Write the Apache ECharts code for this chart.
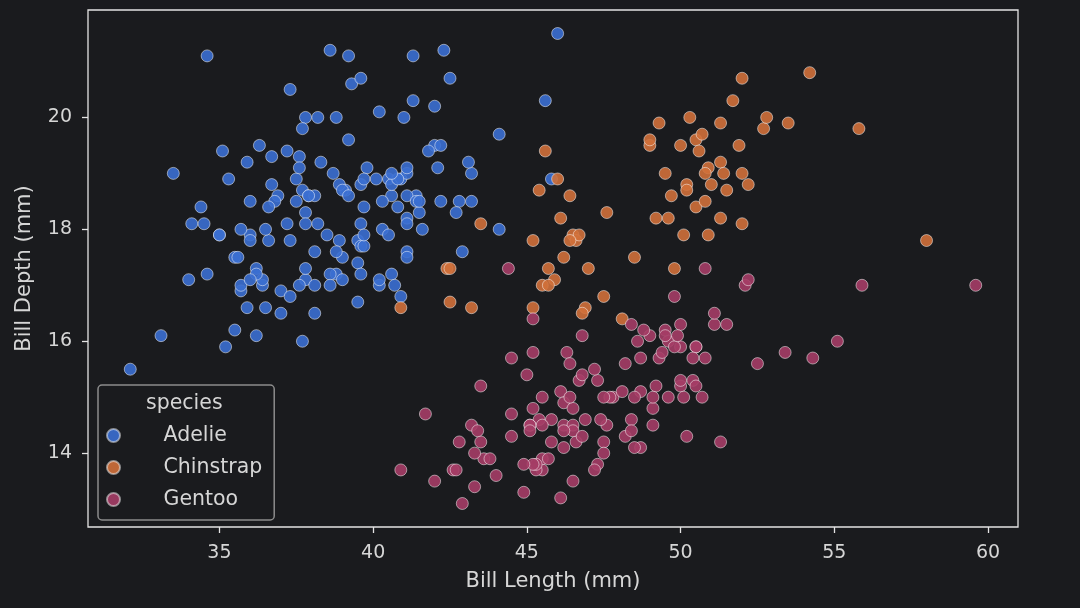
<!DOCTYPE html>
<html>
<head>
<meta charset="utf-8">
<title>Penguins bill size</title>
<script src="https://cdn.jsdelivr.net/npm/echarts@6/dist/echarts.min.js"></script>
<style>
  html, body { margin: 0; padding: 0; background: #1a1b1e; }
  #chart { width: 1080px; height: 608px; }
</style>
</head>
<body>
<div id="chart"></div>
<script>
// bill length / depth per species
var adelieLength = [39.1,39.5,40.3,36.7,39.3,38.9,39.2,34.1,42.0,37.8,37.8,41.1,38.6,34.6,36.6,38.7,42.5,34.4,46.0,37.8,
    37.7,35.9,38.2,38.8,35.3,40.6,40.5,37.9,40.5,39.5,37.2,39.5,40.9,36.4,39.2,38.8,42.2,37.6,39.8,36.5,
    40.8,36.0,44.1,37.0,39.6,41.1,37.5,36.0,42.3,39.6,40.1,35.0,42.0,34.5,41.4,39.0,40.6,36.5,37.6,35.7,
    41.3,37.6,41.1,36.4,41.6,35.5,41.1,35.9,41.8,33.5,39.7,39.6,45.8,35.5,42.8,40.9,37.2,36.2,42.1,34.6,
    42.9,36.7,35.1,37.3,41.3,36.3,36.9,38.3,38.9,35.7,41.1,34.0,39.6,36.2,40.8,38.1,40.3,33.1,43.2,35.0,
    41.0,37.7,37.8,37.9,39.7,38.6,38.2,38.1,43.2,38.1,45.6,39.7,42.2,39.6,42.7,38.6,37.3,35.7,41.1,36.2,
    37.7,40.2,41.4,35.2,40.6,38.8,41.5,39.0,44.1,38.5,43.1,36.8,37.5,38.1,41.1,35.6,40.2,37.0,39.7,40.2,
    40.6,32.1,40.7,37.3,39.0,39.2,36.6,36.0,37.8,36.0,41.5];
var adelieDepth = [18.7,17.4,18.0,19.3,20.6,17.8,19.6,18.1,20.2,17.1,17.3,17.6,21.2,21.1,17.8,19.0,20.7,18.4,21.5,18.3,
    18.7,19.2,18.1,17.2,18.9,18.6,17.9,18.6,18.9,16.7,18.1,17.8,18.9,17.0,21.1,20.0,18.5,19.3,19.1,18.0,
    18.4,18.5,19.7,16.9,18.8,19.0,18.9,17.9,21.2,17.7,18.9,17.9,19.5,18.1,18.6,17.5,18.8,16.6,19.1,16.9,
    21.1,17.0,18.2,17.1,18.0,16.2,19.1,16.6,19.4,19.0,18.4,17.2,18.9,17.5,18.5,16.8,19.4,16.1,19.1,17.2,
    17.6,18.8,19.4,17.8,20.3,19.5,18.6,19.2,18.8,18.0,18.1,17.1,18.1,17.3,18.9,18.6,18.5,16.1,18.5,17.9,
    20.0,16.0,20.0,18.6,18.9,17.2,20.0,17.0,19.0,16.5,20.3,17.7,19.5,20.7,18.3,17.0,20.5,17.0,18.6,17.2,
    19.8,17.0,18.5,15.9,19.0,17.6,18.3,17.1,18.0,17.9,19.2,18.5,18.5,17.6,17.5,17.5,20.1,16.5,17.9,17.1,
    17.2,15.5,17.0,16.8,18.7,18.6,18.4,17.8,18.1,17.1,18.5];

var chinstrapLength = [46.5,50.0,51.3,45.4,52.7,45.2,46.1,51.3,46.0,51.3,46.6,51.7,47.0,52.0,45.9,50.5,50.3,58.0,46.4,49.2,
    42.4,48.5,43.2,50.6,46.7,52.0,50.5,49.5,46.4,52.8,40.9,54.2,42.5,51.0,49.7,47.5,47.6,52.0,46.9,53.5,
    49.0,46.2,50.9,45.5,50.9,50.8,50.1,49.0,51.5,49.8,48.1,51.4,45.7,50.7,42.5,52.2,45.2,49.3,50.2,45.6,
    51.9,46.8,45.7,55.8,43.5,49.6,50.8,50.2];
var chinstrapDepth = [17.9,19.5,19.2,18.7,19.8,17.8,18.2,18.2,18.9,19.9,17.8,20.3,17.3,18.1,17.1,19.6,20.0,17.8,18.6,18.2,
    17.3,17.5,16.6,19.4,17.9,19.0,18.4,19.0,17.8,20.0,16.6,20.8,16.7,18.8,18.6,16.8,18.3,20.7,16.6,19.9,
    19.5,17.5,19.1,17.0,17.9,18.5,17.9,19.6,18.7,17.3,16.4,19.0,17.3,19.7,17.3,18.8,16.6,19.9,18.8,19.4,
    19.5,16.5,17.0,19.8,18.1,18.2,19.0,18.7];

var gentooLength = [46.1,50.0,48.7,50.0,47.6,46.5,45.4,46.7,43.3,46.8,40.9,49.0,45.5,48.4,45.8,49.3,42.0,49.2,46.2,48.7,
    50.2,45.1,46.5,46.3,42.9,46.1,44.5,47.8,48.2,50.0,47.3,42.8,45.1,59.6,49.1,48.4,42.6,44.4,44.0,48.7,
    42.7,49.6,45.3,49.6,50.5,43.6,45.5,50.5,44.9,45.2,46.6,48.5,45.1,50.1,46.5,45.0,43.8,45.5,43.2,50.4,
    45.3,46.2,45.7,54.3,45.8,49.8,46.2,49.5,43.5,50.7,47.7,46.4,48.2,46.5,46.4,48.6,47.5,51.1,45.2,45.2,
    49.1,52.5,47.4,50.0,44.9,50.8,43.4,51.3,47.5,52.1,47.5,52.2,45.5,49.5,44.5,50.8,49.4,46.9,48.4,51.1,
    48.5,55.9,47.2,49.1,47.3,46.8,41.7,53.4,43.3,48.1,50.5,49.8,43.5,51.5,46.2,55.1,44.5,48.8,47.2,46.8,
    50.4,45.2,49.9];
var gentooDepth = [13.2,16.3,14.1,15.2,14.5,13.5,14.6,15.3,13.4,15.4,13.7,16.1,13.7,14.6,14.6,15.7,13.5,15.2,14.5,15.1,
    14.3,14.5,14.5,15.8,13.1,15.1,14.3,15.0,14.3,15.3,15.3,14.2,14.5,17.0,14.8,16.3,13.7,17.3,13.6,15.7,
    13.7,16.0,13.7,15.0,15.9,13.9,13.9,15.9,13.3,15.8,14.2,14.1,14.4,15.0,14.4,15.4,13.9,15.0,14.5,15.3,
    13.8,14.9,13.9,15.7,14.2,16.8,14.4,16.2,14.2,15.0,15.0,15.6,15.6,14.8,15.0,16.0,14.2,16.3,13.8,16.4,
    14.5,15.6,14.6,15.9,13.8,17.3,14.4,14.2,14.0,17.0,15.0,17.1,14.5,16.1,14.7,15.7,15.8,14.6,14.4,16.5,
    15.0,17.0,15.5,15.0,13.8,16.1,14.7,15.8,14.0,15.1,15.2,15.9,15.2,16.3,14.1,16.0,15.7,16.2,13.7,14.3,
    15.7,14.8,16.1];

var speciesNames = ['Adelie', 'Chinstrap', 'Gentoo'];
var speciesColors = ['#3b6fd2', '#d0703a', '#a53d66'];
var xTicks = [35, 40, 45, 50, 55, 60];
var yTicks = [14, 16, 18, 20];

var textColor = '#d6d6d6';
var spineColor = '#e4e4e4';
var fontName = 'DejaVu Sans';

// zip two arrays into [x, y] pairs
var zip = function (xs, ys) {
    var out = [];
    for (var i = 0; i < xs.length; i++)
        out.push([xs[i], ys[i]]);
    return out;
};

var seriesData = [
    zip(adelieLength, adelieDepth),
    zip(chinstrapLength, chinstrapDepth),
    zip(gentooLength, gentooDepth)
];

var series = [];
for (var s = 0; s < speciesNames.length; s++) {
    series.push({
        name: speciesNames[s],
        type: 'scatter',
        data: seriesData[s],
        symbol: 'circle',
        symbolSize: 12,
        itemStyle: {
            color: speciesColors[s],
            opacity: 0.9,
            borderColor: 'rgba(255,255,255,0.55)',
            borderWidth: 1
        },
        emphasis: { disabled: true }
    });
}

var myChart = echarts.init(document.getElementById('chart'));

var option = {
    backgroundColor: '#1a1b1e',
    animation: false,
    textStyle: { fontFamily: fontName },
    grid: {
        left: 88,
        right: 62,
        top: 10,
        bottom: 81,
        show: true,
        borderColor: spineColor,
        borderWidth: 1.3
    },
    xAxis: {
        type: 'value',
        min: 30.725,
        max: 60.975,
        name: 'Bill Length (mm)',
        nameLocation: 'middle',
        nameGap: 44,
        nameTextStyle: { color: textColor, fontSize: 21, fontFamily: fontName },
        axisLine: { show: false },
        axisTick: {
            show: true, inside: false, length: 6,
            customValues: xTicks,
            lineStyle: { color: spineColor, width: 1.3 }
        },
        axisLabel: {
            color: textColor, fontSize: 19, margin: 17,
            customValues: xTicks
        },
        splitLine: { show: false }
    },
    yAxis: {
        type: 'value',
        min: 12.68,
        max: 21.92,
        name: 'Bill Depth (mm)',
        nameLocation: 'middle',
        nameGap: 53,
        nameRotate: 90,
        nameTextStyle: { color: textColor, fontSize: 21, fontFamily: fontName },
        axisLine: { show: false },
        axisTick: {
            show: true, inside: false, length: 6,
            customValues: yTicks,
            lineStyle: { color: spineColor, width: 1.3 }
        },
        axisLabel: {
            color: textColor, fontSize: 19, margin: 16,
            customValues: yTicks
        },
        splitLine: { show: false }
    },
    legend: {
        data: speciesNames,
        orient: 'vertical',
        left: 98,
        top: 385,
        icon: 'circle',
        itemWidth: 40,
        itemHeight: 13,
        itemGap: 11,
        padding: [40, 12, 10, 8],
        backgroundColor: '#1a1b1e',
        borderColor: '#8c8c8c',
        borderWidth: 1.5,
        borderRadius: 4,
        textStyle: {
            color: textColor, fontSize: 20.5, lineHeight: 20,
            fontFamily: fontName, padding: [0, 0, 0, 25]
        }
    },
    graphic: [{
        type: 'text',
        left: 146,
        top: 393,
        z: 100,
        style: {
            text: 'species',
            fill: textColor,
            font: '20.5px "DejaVu Sans"'
        }
    }],
    series: series
};

myChart.setOption(option);
</script>
</body>
</html>
